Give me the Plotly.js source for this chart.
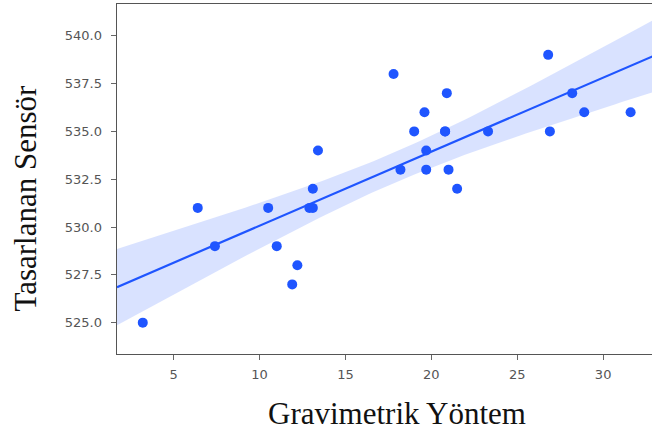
<!DOCTYPE html>
<html><head><meta charset="utf-8">
<script src="https://cdn.plot.ly/plotly-3.0.1.min.js"></script>
<style>html,body{margin:0;padding:0;overflow:hidden;background:#fff}#chart{width:680px;height:437px}</style>
</head><body><div id="chart"></div>
<script>
const xValues = [3.2,6.4,7.4,10.5,11.0,11.9,12.2,12.9,13.1,13.1,13.4,17.8,18.2,19.0,19.6,19.7,19.7,20.8,20.8,20.9,21.0,21.5,23.3,26.8,26.9,28.2,28.9,31.6];
const yValues = [525,531,529,531,529,527,528,531,531,532,534,538,533,535,536,534,533,535,535,537,533,532,535,539,535,537,536,536];
const xTickVals = [5,10,15,20,25,30];
const yTickVals = [525,527.5,530,532.5,535,537.5,540];
const xTitle = "Gravimetrik Yöntem";
const yTitle = "Tasarlanan Sensör";

// ordinary least squares fit with 95% confidence band for the mean
const n = xValues.length;
const mx = xValues.reduce((a,b)=>a+b,0)/n;
const my = yValues.reduce((a,b)=>a+b,0)/n;
let sxx=0, sxy=0;
for(let i=0;i<n;i++){sxx+=(xValues[i]-mx)**2; sxy+=(xValues[i]-mx)*(yValues[i]-my);}
const slope = sxy/sxx, icpt = my - slope*mx;
let sse=0; for(let i=0;i<n;i++){sse+=(yValues[i]-(icpt+slope*xValues[i]))**2;}
const s = Math.sqrt(sse/(n-2));
const tcrit = 2.056;
const xr = [1.7, 34.3];
const gx=[], gy=[], up=[], lo=[];
for(let k=0;k<=100;k++){
  const x = xr[0] + (xr[1]-xr[0])*k/100;
  const yh = icpt + slope*x;
  const se = s*Math.sqrt(1/n + (x-mx)**2/sxx);
  gx.push(x); gy.push(yh); up.push(yh+tcrit*se); lo.push(yh-tcrit*se);
}
const blue = "#1f55ff";
const traces = [
  {x:gx, y:lo, mode:"lines", line:{width:0}, hoverinfo:"skip", showlegend:false},
  {x:gx, y:up, mode:"lines", line:{width:0}, fill:"tonexty", fillcolor:"rgba(31,85,255,0.17)", hoverinfo:"skip", showlegend:false},
  {x:gx, y:gy, mode:"lines", line:{color:blue, width:2.2}, showlegend:false},
  {x:xValues, y:yValues, mode:"markers", marker:{color:blue, size:10}, showlegend:false}
];
const axisCommon = {showgrid:false, zeroline:false, showline:true, linecolor:"#555", linewidth:1.4, mirror:true,
  ticks:"outside", ticklen:5, tickwidth:1, tickcolor:"#666", tickfont:{family:"DejaVu Sans", size:13, color:"#555"}};
const layout = {
  width:680, height:437, margin:{l:117, r:3, t:4, b:83},
  paper_bgcolor:"#fff", plot_bgcolor:"#fff", showlegend:false,
  xaxis:Object.assign({}, axisCommon, {range:xr, tickvals:xTickVals, ticktext:xTickVals.map(String), ticklabelstandoff:3}),
  yaxis:Object.assign({}, axisCommon, {range:[523.36,541.66], tickvals:yTickVals, ticktext:yTickVals.map(v=>v.toFixed(1)), ticklabelstandoff:6}),
  annotations:[
    {text:xTitle, xref:"paper", yref:"paper", x:0.5, y:-0.17, xanchor:"center", yanchor:"middle", showarrow:false,
     font:{family:"Liberation Serif", size:31, color:"#111"}},
    {text:yTitle, xref:"paper", yref:"paper", x:-0.163, y:0.446, xanchor:"center", yanchor:"middle", showarrow:false, textangle:-90,
     font:{family:"Liberation Serif", size:31, color:"#111"}}
  ]
};
Plotly.newPlot("chart", traces, layout, {staticPlot:true, displayModeBar:false});
</script></body></html>
